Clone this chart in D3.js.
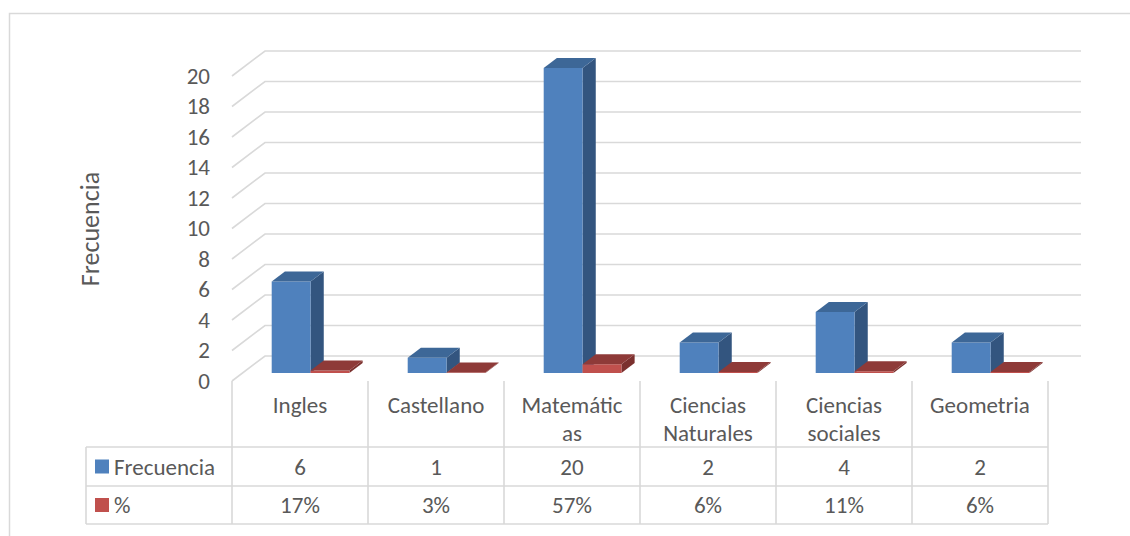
<!DOCTYPE html>
<html>
<head>
<meta charset="utf-8">
<script src="https://cdn.jsdelivr.net/npm/d3@7"></script>
<style>
  html, body { margin: 0; padding: 0; background: #fff; }
  svg { display: block; }
  text { font-family: Carlito, Lato, "Liberation Sans", sans-serif; fill: #595959; }
</style>
</head>
<body>
<svg id="chart" width="1130" height="536"></svg>
<script>
// ---- data ----
const categories = ["Ingles", "Castellano", "Matemáticas", "Ciencias Naturales", "Ciencias sociales", "Geometria"];
const categoryLabelLines = [["Ingles"], ["Castellano"], ["Matemátic", "as"], ["Ciencias", "Naturales"], ["Ciencias", "sociales"], ["Geometria"]];
const seriesNames = ["Frecuencia", "%"];
const frecuencia = [6, 1, 20, 2, 4, 2];
const porcentaje = [0.17, 0.03, 0.57, 0.06, 0.11, 0.06];
const porcentajeLabels = ["17%", "3%", "57%", "6%", "11%", "6%"];
const yTicks = [0, 2, 4, 6, 8, 10, 12, 14, 16, 18, 20];
const yTitle = "Frecuencia";

// ---- styles ----
const gridColor = "#D9D9D9";
const seriesFront = ["#4F81BD", "#C0504D"];
const seriesTop = ["#3D6797", "#8E3A38"];
const seriesSide = ["#33557F", "#7B302E"];
const fs = 23;

const svg = d3.select("#chart");

// outer border
svg.append("rect").attr("x", 9.5).attr("y", 13.5).attr("width", 1300).attr("height", 700)
  .attr("fill", "none").attr("stroke", gridColor).attr("stroke-width", 1.5);

// scales
const plotLeft = 232, plotRight = 1048;
const y = d3.scaleLinear().domain([0, 20]).range([381, 76]);
const x = d3.scaleBand().domain(categories).range([plotLeft, plotRight]).paddingInner(0).paddingOuter(0);
const xs = d3.scaleBand().domain(seriesNames).range([0, x.bandwidth()]).paddingInner(0).paddingOuter(0.75);

// depth projection
const DX = 33, DY = -25;
const proj = (px, py, z) => [px + DX * z, py + DY * z];
const zFront = 0.32, zBack = 0.72;

// gridlines (left wall diagonal + back wall)
const grid = svg.append("g");
yTicks.forEach(t => {
  const p0 = [plotLeft, y(t)];
  const p1 = proj(plotLeft, y(t), 1);
  const p2 = proj(plotRight, y(t), 1);
  grid.append("path")
    .attr("d", d3.line()([p0, p1, p2]))
    .attr("fill", "none").attr("stroke", gridColor).attr("stroke-width", 1.6);
});

// y axis labels via d3 axis
const yAxis = svg.append("g").attr("transform", `translate(${plotLeft},0)`)
  .call(d3.axisLeft(y).tickValues(yTicks).tickSize(0).tickPadding(22));
yAxis.select(".domain").remove();
yAxis.selectAll("text").attr("font-size", fs).style("font-family", "Carlito, Lato, sans-serif").attr("fill", "#595959");

// y title
svg.append("text").attr("transform", "translate(90,229) rotate(-90)")
  .attr("text-anchor", "middle").attr("dominant-baseline", "central")
  .attr("font-size", 26).text(yTitle);

// bars
const series = [frecuencia, porcentaje];
const bars = svg.append("g");
categories.forEach((c, i) => {
  seriesNames.forEach((s, k) => {
    const v = series[k][i];
    const x0 = x(c) + xs(s), x1 = x0 + xs.bandwidth();
    const yb = y(0), yt = y(v);
    const front = [proj(x0, yb, zFront), proj(x1, yb, zFront), proj(x1, yt, zFront), proj(x0, yt, zFront)];
    const top = [proj(x0, yt, zFront), proj(x1, yt, zFront), proj(x1, yt, zBack), proj(x0, yt, zBack)];
    const side = [proj(x1, yt, zFront), proj(x1, yb, zFront), proj(x1, yb, zBack), proj(x1, yt, zBack)];
    const g = bars.append("g");
    g.append("path").attr("d", d3.line()(side) + "Z").attr("fill", seriesSide[k]);
    g.append("path").attr("d", d3.line()(front) + "Z").attr("fill", seriesFront[k]);
    g.append("path").attr("d", d3.line()(top) + "Z").attr("fill", seriesTop[k]);
  });
});

// data table
const tableLeft = 86, rowTop = 381, rowH1 = 447, rowH2 = 486, rowH3 = 524;
const tbl = svg.append("g");
const lineAttr = sel => sel.attr("stroke", gridColor).attr("stroke-width", 1.6).attr("fill", "none");
d3.range(categories.length + 1).forEach(j => {
  const xx = plotLeft + j * x.step();
  lineAttr(tbl.append("line").attr("x1", xx).attr("x2", xx).attr("y1", rowTop).attr("y2", rowH3));
});
lineAttr(tbl.append("line").attr("x1", tableLeft).attr("x2", tableLeft).attr("y1", rowH1).attr("y2", rowH3));
[rowH1, rowH2, rowH3].forEach(yy => {
  lineAttr(tbl.append("line").attr("x1", tableLeft).attr("x2", plotRight).attr("y1", yy).attr("y2", yy));
});

// category labels
categories.forEach((c, i) => {
  const cx = x(c) + x.bandwidth() / 2;
  const t = tbl.append("text").attr("text-anchor", "middle").attr("font-size", fs);
  categoryLabelLines[i].forEach((ln, li) => {
    t.append("tspan").attr("x", cx).attr("y", 405 + li * 28).attr("dominant-baseline", "central").text(ln);
  });
});

// rows
const rowCenters = [466.5, 505];
const rowTexts = [frecuencia.map(String), porcentajeLabels];
rowTexts.forEach((vals, k) => {
  categories.forEach((c, i) => {
    tbl.append("text").attr("x", x(c) + x.bandwidth() / 2).attr("y", rowCenters[k])
      .attr("text-anchor", "middle").attr("dominant-baseline", "central").attr("font-size", fs)
      .text(vals[i]);
  });
  tbl.append("rect").attr("x", 95).attr("y", rowCenters[k] - 7).attr("width", 14).attr("height", 14)
    .attr("fill", seriesFront[k]);
  tbl.append("text").attr("x", 114).attr("y", rowCenters[k]).attr("dominant-baseline", "central")
    .attr("font-size", fs).text(seriesNames[k]);
});
</script>
</body>
</html>
